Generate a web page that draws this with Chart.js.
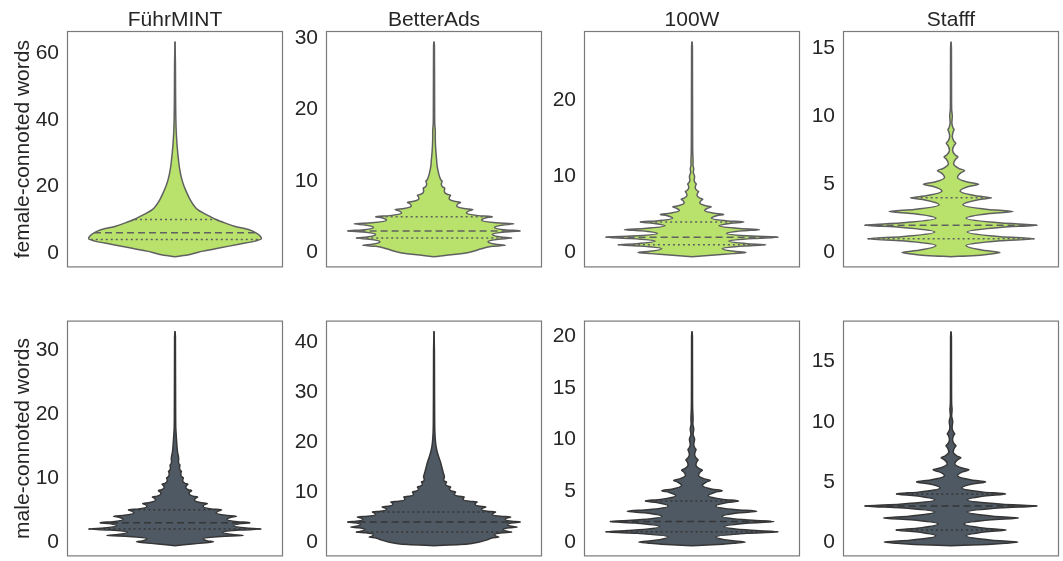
<!DOCTYPE html>
<html>
<head>
<meta charset="utf-8">
<script src="https://cdn.jsdelivr.net/npm/chart.js@4.4.1/dist/chart.umd.min.js"></script>
<style>
  body { margin: 0; background: #fff; }
  #wrap { position: relative; width: 1063px; height: 561px; overflow: hidden; background: #fff; }
  #wrap canvas { position: absolute; }
</style>
</head>
<body>
<div id="wrap"></div>
<script>
// column titles and row labels
const groups = ['FührMINT', 'BetterAds', '100W', 'Stafff'];
const rowLabels = ['female-connoted words', 'male-connoted words'];

// y axis ranges per panel (female row, male row)
const yMinF = [-4.4, -2.1, -1.96, -1.1];
const yMaxF = [66.7, 31, 29.1, 16.24];
const stepF = [20, 10, 10, 5];
const yMinM = [-2.27, -2.86, -1.39, -1.19];
const yMaxM = [34.57, 44.24, 21.55, 18.4];
const stepM = [10, 10, 5, 5];

// violin outlines: value (y) and half width (w, violin max = 0.4)
const fuehrF_y = [-1.2, -0.5, 0.5, 1.5, 2.5, 3.5, 4.2, 5, 6, 7, 8, 9, 10, 11, 12, 13, 14, 16, 18, 20, 22, 25, 28, 32, 36, 40, 45, 50, 57, 63.5];
const fuehrF_w = [0, 0.07, 0.13, 0.21, 0.29, 0.37, 0.40, 0.395, 0.375, 0.34, 0.275, 0.23, 0.19, 0.16, 0.13, 0.105, 0.09, 0.07, 0.055, 0.042, 0.032, 0.022, 0.016, 0.01, 0.006, 0.004, 0.003, 0.0025, 0.002, 0];

const betterF_y = [-0.6, -0.3, 0, 0.5,
  0.85, 1, 1.15, 1.5,  1.85, 2, 2.15, 2.5,  2.85, 3, 3.15, 3.5,  3.85, 4, 4.15, 4.5,
  4.85, 5, 5.15, 5.5,  5.85, 6, 6.15, 6.5,  6.85, 7, 7.15, 7.5,  7.85, 8, 8.15, 8.5,
  8.85, 9, 9.15, 9.5,  9.85, 10, 10.15, 10.5,
  11, 12, 13, 14, 15, 16, 17, 18, 20, 25, 29, 29.5];
const betterF_w = [0, 0.09, 0.16, 0.22,
  0.27, 0.33, 0.286, 0.25,  0.30, 0.36, 0.31, 0.27,  0.328, 0.40, 0.334, 0.28,  0.32, 0.37, 0.288, 0.22,
  0.242, 0.27, 0.204, 0.15,  0.164, 0.18, 0.139, 0.105,  0.113, 0.123, 0.094, 0.07,  0.073, 0.077, 0.061, 0.048,
  0.049, 0.05, 0.041, 0.034,  0.036, 0.038, 0.032, 0.027,
  0.022, 0.015, 0.012, 0.009, 0.007, 0.006, 0.006, 0.0035, 0.003, 0.0025, 0.002, 0];

const w100F_y = [-0.55, -0.35, -0.15, 0, 0.15, 0.5,
  0.85, 1, 1.15, 1.5,  1.85, 2, 2.15, 2.5,  2.85, 3, 3.15, 3.5,  3.85, 4, 4.15, 4.5,
  4.85, 5, 5.15, 5.5,  5.85, 6, 6.15, 6.5,  6.85, 7, 7.15, 7.5,  7.85, 8, 8.15, 8.5,
  8.85, 9, 9.15, 9.5,
  10, 10.5, 11, 11.5, 12, 13, 15, 20, 27, 27.7];
const w100F_w = [0, 0.09, 0.19, 0.25, 0.195, 0.14,
  0.2415, 0.343, 0.2565, 0.17,  0.285, 0.40, 0.28, 0.16,  0.2365, 0.313, 0.219, 0.125,  0.1825, 0.24, 0.165, 0.09,
  0.1185, 0.147, 0.1025, 0.058,  0.074, 0.09, 0.063, 0.036,  0.043, 0.05, 0.0365, 0.023,  0.027, 0.031, 0.023, 0.015,
  0.0175, 0.02, 0.015, 0.01,
  0.012, 0.006, 0.008, 0.0045, 0.005, 0.0035, 0.003, 0.0025, 0.002, 0];

const staffF_y = [-0.31, -0.25, -0.12, 0, 0.15, 0.5,
  0.85, 1, 1.15, 1.5,  1.85, 2, 2.15, 2.5,  2.85, 3, 3.15, 3.5,  3.85, 4, 4.15, 4.5,
  4.85, 5, 5.15, 5.5,  5.85, 6, 6.15, 6.5,  6.85, 7, 7.15, 7.5,  7.85, 8, 8.15, 8.5,
  8.85, 9, 9.15, 9.5,
  10, 10.5, 12, 15, 15.45];
const staffF_w = [0, 0.1, 0.18, 0.227, 0.149, 0.07,
  0.228, 0.386, 0.2305, 0.075,  0.2375, 0.40, 0.235, 0.07,  0.1785, 0.287, 0.171, 0.055,  0.121, 0.187, 0.1145, 0.042,
  0.085, 0.128, 0.079, 0.03,  0.0465, 0.063, 0.0375, 0.012,  0.022, 0.032, 0.0195, 0.007,  0.0145, 0.022, 0.014, 0.006,
  0.01, 0.014, 0.009, 0.004,
  0.006, 0.003, 0.0025, 0.002, 0];

const fuehrM_y = [-0.6, -0.3, -0.15, 0, 0.15, 0.5,
  0.85, 1, 1.15, 1.5,  1.85, 2, 2.15, 2.5,  2.85, 3, 3.15, 3.5,  3.85, 4, 4.15, 4.5,
  4.85, 5, 5.15, 5.5,  5.85, 6, 6.15, 6.5,  6.85, 7, 7.15, 7.5,  7.85, 8, 8.15, 8.5,
  8.85, 9, 9.15, 9.5,  9.85, 10, 10.15, 10.5,  10.85, 11, 11.15, 11.5,  11.85, 12, 12.15, 12.5,
  13, 14, 15, 16, 17, 18, 20, 25, 32, 32.9];
const fuehrM_w = [0, 0.09, 0.14, 0.178, 0.152, 0.13,
  0.214, 0.316, 0.265, 0.22,  0.301, 0.40, 0.329, 0.27,  0.305, 0.347, 0.288, 0.24,  0.26, 0.285, 0.233, 0.19,
  0.202, 0.216, 0.169, 0.13,  0.139, 0.15, 0.117, 0.09,  0.097, 0.105, 0.083, 0.065,  0.07, 0.077, 0.062, 0.05,
  0.0545, 0.06, 0.047, 0.036,  0.037, 0.039, 0.032, 0.027,  0.028, 0.03, 0.025, 0.021,  0.022, 0.023, 0.019, 0.016,
  0.017, 0.012, 0.009, 0.007, 0.005, 0.0035, 0.003, 0.0025, 0.002, 0];

const betterM_y = [-0.72, -0.5, -0.25, 0, 0.5,
  0.85, 1, 1.15, 1.5,  1.85, 2, 2.15, 2.5,  2.85, 3, 3.15, 3.5,  3.85, 4, 4.15, 4.5,
  4.85, 5, 5.15, 5.5,  5.85, 6, 6.15, 6.5,  6.85, 7, 7.15, 7.5,  7.85, 8, 8.15, 8.5,
  8.85, 9, 9.15, 9.5,  9.85, 10, 10.15, 10.5,  10.85, 11, 11.15, 11.5,  11.85, 12, 12.15, 12.5,
  13, 14, 15, 16, 17, 18, 19, 20, 22, 25, 30, 38, 42.1];
const betterM_w = [0, 0.12, 0.18, 0.21, 0.25,
  0.2725, 0.30, 0.289, 0.28,  0.316, 0.36, 0.338, 0.32,  0.349, 0.385, 0.36, 0.34,  0.367, 0.40, 0.3615, 0.33,
  0.341, 0.355, 0.308, 0.27,  0.277, 0.285, 0.249, 0.22,  0.229, 0.24, 0.2125, 0.19,  0.1945, 0.20, 0.164, 0.135,
  0.137, 0.14, 0.115, 0.095,  0.097, 0.10, 0.085, 0.072,  0.074, 0.077, 0.064, 0.054,  0.056, 0.058, 0.049, 0.045,
  0.048, 0.042, 0.036, 0.03, 0.022, 0.015, 0.01, 0.007, 0.004, 0.003, 0.0025, 0.002, 0];

const w100M_y = [-0.35, -0.2, -0.1, 0, 0.15, 0.5,
  0.85, 1, 1.15, 1.5,  1.85, 2, 2.15, 2.5,  2.85, 3, 3.15, 3.5,  3.85, 4, 4.15, 4.5,
  4.85, 5, 5.15, 5.5,  5.85, 6, 6.15, 6.5,  6.85, 7, 7.15, 7.5,  7.85, 8, 8.15, 8.5,
  8.85, 9, 9.15, 9.5,
  10, 10.5, 11, 11.5, 12, 13, 15, 20, 20.5];
const w100M_w = [0, 0.14, 0.2, 0.247, 0.1785, 0.11,
  0.255, 0.40, 0.275, 0.15,  0.265, 0.38, 0.26, 0.14,  0.22, 0.30, 0.205, 0.11,  0.163, 0.216, 0.1455, 0.075,
  0.1075, 0.14, 0.094, 0.048,  0.0665, 0.085, 0.0575, 0.03,  0.039, 0.048, 0.033, 0.018,  0.023, 0.028, 0.02, 0.012,
  0.0155, 0.019, 0.0135, 0.008,
  0.012, 0.005, 0.008, 0.004, 0.005, 0.003, 0.0025, 0.002, 0];

const staffM_y = [-0.3, -0.2, -0.1, 0, 0.15, 0.5,
  0.85, 1, 1.15, 1.5,  1.85, 2, 2.15, 2.5,  2.85, 3, 3.15, 3.5,  3.85, 4, 4.15, 4.5,
  4.85, 5, 5.15, 5.5,  5.85, 6, 6.15, 6.5,  6.85, 7, 7.15, 7.5,  7.85, 8, 8.15, 8.5,
  8.85, 9, 9.15, 9.5,
  10, 10.5, 11, 11.5, 13, 17, 17.5];
const staffM_w = [0, 0.17, 0.25, 0.309, 0.19, 0.07,
  0.1625, 0.255, 0.1575, 0.06,  0.1865, 0.313, 0.194, 0.075,  0.2375, 0.40, 0.2375, 0.075,  0.164, 0.253, 0.1515, 0.05,
  0.105, 0.16, 0.095, 0.03,  0.0565, 0.083, 0.05, 0.017,  0.0315, 0.046, 0.028, 0.01,  0.0165, 0.023, 0.015, 0.007,
  0.012, 0.017, 0.011, 0.005,
  0.008, 0.003, 0.005, 0.003, 0.0025, 0.002, 0];

// quartiles (Q1, median, Q3) and the violin half width at each
const fuehrF_q = [4, 6, 10],  fuehrF_qw = [0.39, 0.375, 0.185];
const betterF_q = [2, 3, 5],  betterF_qw = [0.36, 0.40, 0.27];
const w100F_q = [1, 2, 4],    w100F_qw = [0.343, 0.40, 0.24];
const staffF_q = [1, 2, 4],   staffF_qw = [0.386, 0.40, 0.187];
const fuehrM_q = [2, 3, 5],   fuehrM_qw = [0.40, 0.347, 0.216];
const betterM_q = [2, 4, 6],  betterM_qw = [0.36, 0.40, 0.285];
const w100M_q = [1, 2, 4],    w100M_qw = [0.40, 0.38, 0.216];
const staffM_q = [1, 3, 4],   staffM_qw = [0.255, 0.40, 0.253];

const femaleFill = '#b8e26c', femaleLine = '#606060';
const maleFill = '#4f5964', maleLine = '#363636';
const textColor = '#262626';
const fontFamily = '"Liberation Sans", Arial, sans-serif';
const fontSize = 21;

const frameLeft = [67, 326, 584, 843];
const frameW = 216, frameH = 241;

const panels = [
  { row: 0, col: 0, y: fuehrF_y, w: fuehrF_w, q: fuehrF_q, qw: fuehrF_qw },
  { row: 0, col: 1, y: betterF_y, w: betterF_w, q: betterF_q, qw: betterF_qw },
  { row: 0, col: 2, y: w100F_y, w: w100F_w, q: w100F_q, qw: w100F_qw },
  { row: 0, col: 3, y: staffF_y, w: staffF_w, q: staffF_q, qw: staffF_qw },
  { row: 1, col: 0, y: fuehrM_y, w: fuehrM_w, q: fuehrM_q, qw: fuehrM_qw },
  { row: 1, col: 1, y: betterM_y, w: betterM_w, q: betterM_q, qw: betterM_qw },
  { row: 1, col: 2, y: w100M_y, w: w100M_w, q: w100M_q, qw: w100M_qw },
  { row: 1, col: 3, y: staffM_y, w: staffM_w, q: staffM_q, qw: staffM_qw }
];

Chart.defaults.font.family = fontFamily;

// box around each plot area
const framePlugin = {
  id: 'frame',
  afterDraw(chart) {
    const a = chart.chartArea;
    const ctx = chart.ctx;
    ctx.save();
    ctx.strokeStyle = '#7a7a7a';
    ctx.lineWidth = 1.2;
    ctx.strokeRect(a.left + 0.5, a.top + 0.5, a.right - a.left - 1, a.bottom - a.top - 1);
    ctx.restore();
  }
};

const wrap = document.getElementById('wrap');

panels.forEach(p => {
  const female = p.row === 0;
  const fill = female ? femaleFill : maleFill;
  const edge = female ? femaleLine : maleLine;
  const axW = p.col === 0 ? 67 : 55;
  const padTop = female ? 0 : 20;
  const canvasTop = female ? 0 : 300;
  const width = axW + frameW + 2;
  const height = (female ? 31 : 20) + frameH + 16;

  const cv = document.createElement('canvas');
  cv.width = width;
  cv.height = height;
  cv.style.left = (frameLeft[p.col] - axW) + 'px';
  cv.style.top = canvasTop + 'px';
  cv.style.width = width + 'px';
  cv.style.height = height + 'px';
  wrap.appendChild(cv);

  const right = p.y.map((v, i) => ({ x: p.w[i], y: v }));
  const left = p.y.map((v, i) => ({ x: -p.w[i], y: v }));

  const side = {
    borderColor: edge,
    borderWidth: 1.5,
    pointRadius: 0,
    cubicInterpolationMode: 'monotone',
    order: 2
  };
  // inner quartile lines: dotted Q1/Q3, dashed median, drawn over the violin
  const quartLines = p.q.map((v, i) => ({
    data: [{ x: -p.qw[i], y: v }, { x: p.qw[i], y: v }],
    borderColor: edge,
    borderWidth: 1.5,
    borderDash: i === 1 ? [7, 4] : [2, 3],
    pointRadius: 0,
    fill: false,
    order: 0
  }));

  new Chart(cv.getContext('2d'), {
    type: 'line',
    data: {
      datasets: [
        Object.assign({ data: right, fill: '+1', backgroundColor: fill }, side),
        Object.assign({ data: left, fill: false }, side),
        ...quartLines
      ]
    },
    options: {
      indexAxis: 'y',
      responsive: false,
      devicePixelRatio: 1,
      animation: false,
      layout: { padding: { top: padTop, right: 2, bottom: 16, left: 0 } },
      plugins: {
        legend: { display: false },
        tooltip: { enabled: false },
        filler: { drawTime: 'beforeDatasetsDraw' },
        title: {
          display: female,
          text: groups[p.col],
          fullSize: false,
          color: textColor,
          font: { size: fontSize, weight: 'normal', lineHeight: 1 },
          padding: { top: 10, bottom: 0 }
        }
      },
      scales: {
        x: { type: 'linear', min: -0.5, max: 0.5, display: false },
        y: {
          type: 'linear',
          min: female ? yMinF[p.col] : yMinM[p.col],
          max: female ? yMaxF[p.col] : yMaxM[p.col],
          grid: { display: false, drawTicks: false },
          border: { display: false },
          ticks: {
            stepSize: female ? stepF[p.col] : stepM[p.col],
            includeBounds: false,
            padding: 8,
            color: textColor,
            font: { size: fontSize }
          },
          title: {
            display: p.col === 0,
            text: rowLabels[p.row],
            color: textColor,
            font: { size: fontSize },
            padding: { top: 11, bottom: 0 }
          },
          afterFit: s => { s.width = axW; }
        }
      }
    },
    plugins: [framePlugin]
  });
});
</script>
</body>
</html>
